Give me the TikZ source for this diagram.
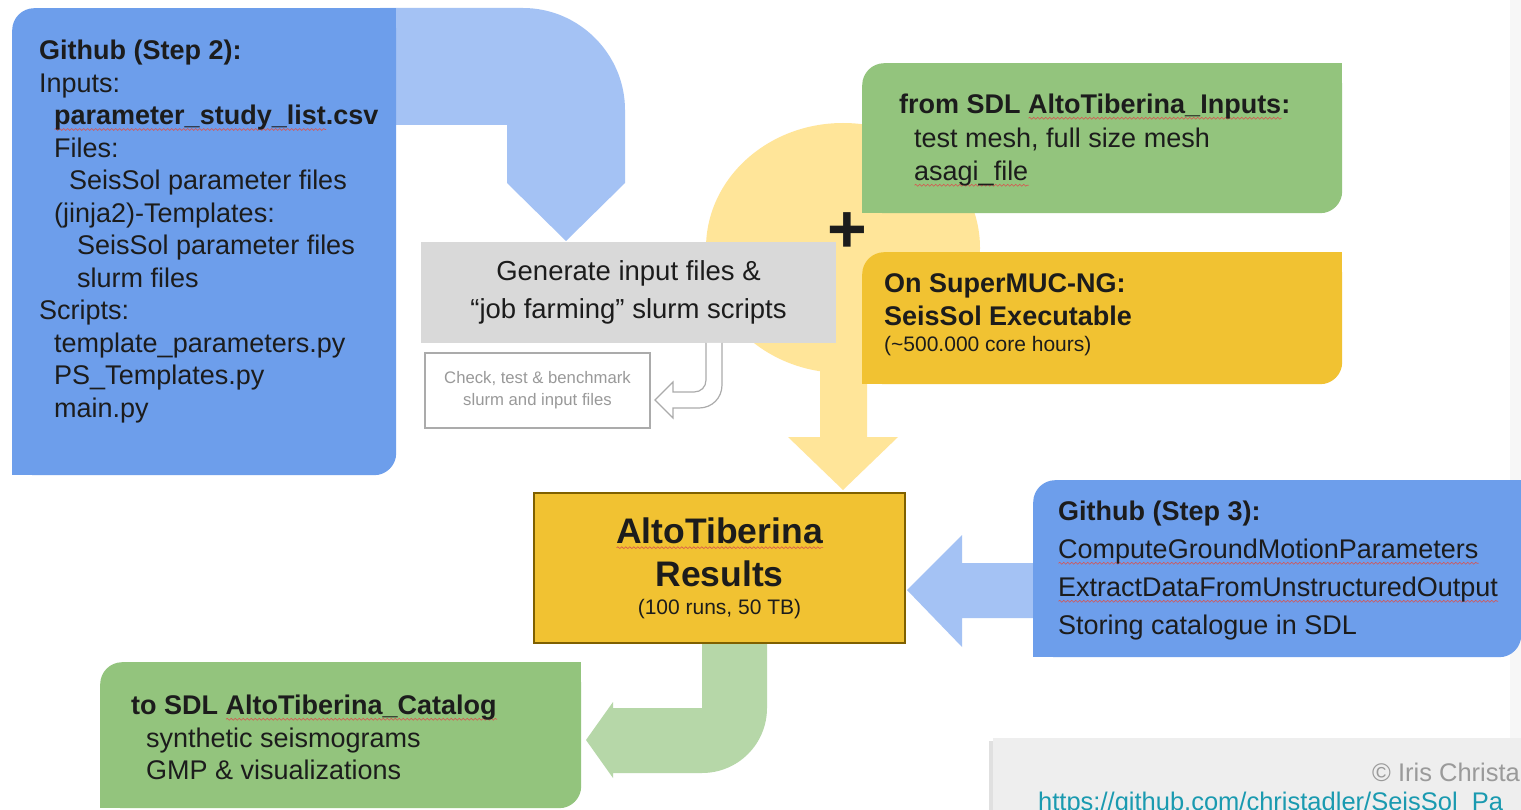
\documentclass[tikz,border=0pt]{standalone}
\usepackage{fontspec}
\setmainfont{Liberation Sans}
\usepackage{xcolor}
\usepackage{tikz}
\usetikzlibrary{positioning, calc, decorations.pathmorphing}

\definecolor{ghblue}{HTML}{6D9EEB}
\definecolor{ghblueLt}{HTML}{A4C2F4}
\definecolor{sdlgreen}{HTML}{93C47D}
\definecolor{sdlgreenLt}{HTML}{B6D7A8}
\definecolor{gold}{HTML}{F1C232}
\definecolor{goldLt}{HTML}{FFE599}
\definecolor{goldLine}{HTML}{7F6000}
\definecolor{genGray}{HTML}{D9D9D9}
\definecolor{checkLine}{HTML}{ABABAB}
\definecolor{checkText}{HTML}{999999}
\definecolor{footGray}{HTML}{EEEEEE}
\definecolor{footText}{HTML}{9A9A9A}
\definecolor{linkTeal}{HTML}{1A9AB0}
\definecolor{ink}{HTML}{1C1C1C}
\definecolor{spellRed}{HTML}{D9534F}

\newcommand\fsz[2]{\fontsize{#1}{#2}\selectfont}
% red wavy spell-check underline
\newlength\spellwd
\newcommand\spell[1]{\settowidth\spellwd{#1}\rlap{\tikz[baseline=0pt,x=1pt,y=1pt]\draw[spellRed, line width=0.6pt,
  decorate, decoration={snake, amplitude=0.9pt, segment length=4pt}] (0,-4.5) -- (\spellwd,-4.5);}#1}

\begin{document}
\begin{tikzpicture}[
  x=1pt, y=-1pt,
  every node/.style={inner sep=0pt, text=ink},
  box/.style={anchor=north west, rounded corners=22pt},
  body/.style={anchor=north west, align=left, font=\fsz{27}{32.5}},
]
\useasboundingbox (0,0) rectangle (1521,810);
\fill[white] (0,0) rectangle (1521,810);
\fill[black!3] (1510,0) rectangle (1521,810);

% yellow executable blob and its arrow down to the results
\fill[goldLt] (843,248) ellipse [x radius=137, y radius=125];
\fill[goldLt] (820,360) -- (820,437) -- (788,437) -- (843,490) -- (898,437) -- (867,437) -- (867,360) -- cycle;

% step 2 bent arrow into the generator
\fill[ghblueLt] (380,8) -- (523,8) .. controls (579,8) and (625,54) .. (625,110)
  -- (625,183) -- (566,241) -- (507,183) -- (507,125) -- (380,125) -- cycle;

% boxes
\node[box, fill=ghblue, minimum width=384pt, minimum height=467pt] (step2) at (12,8) {};
\node[box, fill=sdlgreen, minimum width=480pt, minimum height=150pt] (inputs) at (862,63) {};
\node[box, fill=gold, minimum width=480pt, minimum height=132pt] (smuc) at (862,252) {};

\node[fill=genGray, minimum width=415pt, minimum height=101pt, align=center,
  font=\fsz{27.5}{38}] (gen) at (628.5,292.5) {Generate input files \&\\“job farming” slurm scripts};

% check loop (outlined arrow)
\draw[checkLine, line width=1.2pt, fill=white] (706,343) -- (706,380) .. controls (706,387) and (701,392) .. (694,392)
  -- (673,392) -- (673,382) -- (655,400) -- (673,418) -- (673,408) -- (699,408)
  .. controls (712,408) and (722,398) .. (722,385) -- (722,343);
\node[draw=checkLine, line width=1.2pt, fill=white, minimum width=225pt, minimum height=75pt,
  align=center, text=checkText, font=\fsz{16.7}{22}] (check) at (537.5,390.5) {Check, test \& benchmark\\slurm and input files};

\node[font=\bfseries\fsz{68}{68}] (plus) at (847,233) {+};

% step 3 arrow into the results
\fill[ghblueLt] (1040,563) -- (962,563) -- (962,535) -- (907,590) -- (962,647) -- (962,618) -- (1040,618) -- cycle;
\node[box, fill=ghblue, minimum width=488pt, minimum height=177pt] (step3) at (1033,480) {};

% results down to the catalog
\fill[sdlgreenLt] (702,630) -- (702,708) -- (613,708) -- (613,702) -- (586,740) -- (613,778) -- (613,773) -- (702,773)
  .. controls (738,773) and (767,744) .. (767,708) -- (767,630) -- cycle;
\node[draw=goldLine, line width=2pt, fill=gold, minimum width=371pt, minimum height=150pt, align=center,
  font=\bfseries\fsz{35.5}{43}] (results) at (719.5,568)
  {\spell{AltoTiberina}\\Results\\[-15pt]{\mdseries\fsz{21}{25}(100 runs, 50 TB)}};

\node[box, fill=sdlgreen, minimum width=481pt, minimum height=146pt] (catalog) at (100,662) {};

% only two corners of each box are rounded
\foreach \nm/\col in {step2/ghblue, inputs/sdlgreen, smuc/gold, step3/ghblue, catalog/sdlgreen} {
  \fill[\col] (\nm.north east) rectangle +(-30,30);
  \fill[\col] (\nm.south west) rectangle +(30,-30);
}

% texts
\node[body] (step2txt) at (39,40.2) {\textbf{Github (Step 2):}\\Inputs:\\
  \hspace*{15pt}\textbf{\spell{parameter\_study\_list}.csv}\\
  \hspace*{15pt}Files:\\
  \hspace*{30pt}SeisSol parameter files\\
  \hspace*{15pt}(jinja2)-Templates:\\
  \hspace*{38pt}SeisSol parameter files\\
  \hspace*{38pt}slurm files\\
  Scripts:\\
  \hspace*{15pt}template\_parameters.py\\
  \hspace*{15pt}PS\_Templates.py\\
  \hspace*{15pt}main.py};

\node[body, font=\fsz{27}{33.5}] (inputstxt) at (899,94) {\textbf{from SDL \spell{AltoTiberina\_Inputs}:}\\
  \hspace*{15pt}test mesh, full size mesh\\
  \hspace*{15pt}\spell{asagi\_file}};

\node[body, font=\bfseries\fsz{27}{33}] (smuctxt) at (884,273) {On SuperMUC-NG:\\SeisSol Executable};
\node[anchor=north west, font=\fsz{21}{25}] (smucnote) at (884,335.6) {(\textasciitilde500.000 core hours)};

\node[body, font=\fsz{27}{38}] (step3txt) at (1058,501) {\textbf{Github (Step 3):}\\
  \spell{ComputeGroundMotionParameters}\\
  \spell{ExtractDataFromUnstructuredOutput}\\
  Storing catalogue in SDL};

\node[body] (catalogtxt) at (131,695) {\textbf{to SDL \spell{AltoTiberina\_Catalog}}\\
  \hspace*{15pt}synthetic seismograms\\
  \hspace*{15pt}GMP \& visualizations};

% footer
\fill[black!12] (989,741) rectangle (993,810);
\node[anchor=north west, fill=footGray, minimum width=528pt, minimum height=73pt] (footer) at (993,738) {};
\node[anchor=base west, font=\fsz{25.5}{30}, text=footText] (credit) at (1372,781) {© Iris Christa};
\node[anchor=base west, font=\fsz{25.5}{30}, text=linkTeal] (repo) at (1038,810) {https://github.com/christadler/SeisSol\_Pa};
\end{tikzpicture}
\end{document}
